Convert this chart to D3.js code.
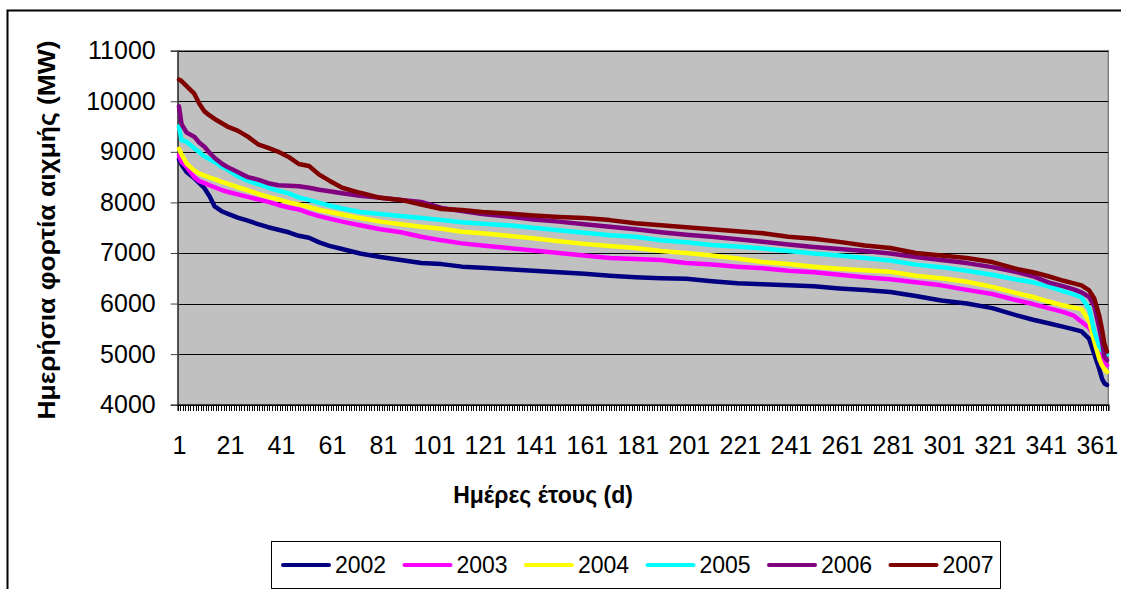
<!DOCTYPE html>
<html>
<head>
<meta charset="utf-8">
<script src="https://cdn.jsdelivr.net/npm/d3@7"></script>
<style>
  body { margin: 0; background: #fff; }
  text { font-family: "Liberation Sans", Arial, sans-serif; }
</style>
</head>
<body>
<div id="chart"></div>
<script>
const days = d3.range(1, 366)
const sampleDays = [1, 2, 4, 7, 9, 11, 13, 15, 18, 20, 24, 28, 32, 36, 40, 44, 48, 52, 56, 60, 65, 72, 80, 88, 96, 104, 112, 120, 130, 140, 150, 160, 170, 180, 190, 200, 210, 220, 230, 240, 250, 260, 270, 280, 290, 300, 310, 320, 330, 336, 342, 348, 352, 355, 358, 360, 362, 363, 364, 365]

const years = ["2002", "2003", "2004", "2005", "2006", "2007"]
const colors = ["#000080", "#FF00FF", "#FFFF00", "#00FFFF", "#800080", "#800000"]

// daily peak load, sorted (MW)
const load2002 = [8850, 8750, 8600, 8480, 8380, 8280, 8120, 7920, 7820, 7780, 7700, 7640, 7570, 7510, 7460, 7410, 7340, 7300, 7210, 7140, 7080, 6990, 6920, 6860, 6800, 6780, 6730, 6710, 6680, 6650, 6620, 6590, 6550, 6520, 6500, 6490, 6440, 6400, 6380, 6360, 6340, 6300, 6270, 6230, 6150, 6060, 6000, 5910, 5760, 5680, 5610, 5540, 5490, 5450, 5300, 5000, 4700, 4520, 4420, 4390]
const load2003 = [8930, 8800, 8700, 8500, 8420, 8380, 8340, 8300, 8240, 8210, 8160, 8110, 8060, 8010, 7950, 7900, 7860, 7790, 7730, 7680, 7620, 7550, 7470, 7410, 7320, 7250, 7190, 7150, 7100, 7050, 7000, 6950, 6900, 6880, 6860, 6800, 6770, 6730, 6700, 6650, 6620, 6570, 6520, 6480, 6420, 6360, 6270, 6190, 6060, 5990, 5910, 5830, 5760, 5640, 5520, 5350, 5050, 4900, 4810, 4780]
const load2004 = [9060, 8950, 8770, 8630, 8570, 8530, 8490, 8460, 8400, 8370, 8300, 8240, 8170, 8110, 8060, 8000, 7960, 7910, 7850, 7810, 7760, 7690, 7620, 7570, 7520, 7480, 7420, 7390, 7340, 7290, 7230, 7180, 7140, 7100, 7040, 7000, 6950, 6890, 6820, 6780, 6730, 6690, 6660, 6630, 6550, 6500, 6430, 6330, 6200, 6130, 6040, 5960, 5920, 5890, 5650, 5250, 4900, 4780, 4700, 4650]
const load2005 = [9500, 9230, 9200, 9070, 8990, 8910, 8850, 8800, 8700, 8650, 8520, 8430, 8360, 8290, 8230, 8180, 8100, 8050, 7990, 7940, 7880, 7810, 7770, 7730, 7690, 7650, 7610, 7580, 7550, 7500, 7450, 7400, 7350, 7320, 7250, 7210, 7160, 7130, 7090, 7040, 6990, 6950, 6900, 6850, 6770, 6720, 6650, 6570, 6470, 6420, 6340, 6240, 6180, 6120, 5900, 5450, 5150, 5080, 5030, 5000]
const load2006 = [9900, 9550, 9380, 9300, 9180, 9100, 8980, 8880, 8760, 8700, 8600, 8500, 8450, 8380, 8340, 8330, 8320, 8290, 8250, 8220, 8180, 8130, 8090, 8050, 8010, 7890, 7830, 7770, 7720, 7660, 7620, 7570, 7520, 7470, 7410, 7360, 7320, 7270, 7220, 7170, 7120, 7080, 7040, 6990, 6920, 6860, 6800, 6720, 6620, 6540, 6420, 6340, 6280, 6220, 6130, 5950, 5500, 5250, 4950, 4880]
const load2007 = [10430, 10400, 10300, 10150, 9950, 9800, 9720, 9650, 9560, 9500, 9420, 9300, 9150, 9080, 9000, 8900, 8760, 8720, 8550, 8430, 8290, 8190, 8090, 8050, 7960, 7870, 7850, 7810, 7780, 7740, 7710, 7690, 7650, 7590, 7550, 7510, 7470, 7430, 7390, 7320, 7280, 7220, 7150, 7100, 7000, 6950, 6900, 6820, 6680, 6620, 6540, 6450, 6400, 6360, 6260, 6100, 5750, 5500, 5200, 5050]

const yTicks = [4000, 5000, 6000, 7000, 8000, 9000, 10000, 11000]
const xLabels = d3.range(1, 366, 20)

const series = [load2002, load2003, load2004, load2005, load2006, load2007]

const W = 1121, H = 589
const plot = { left: 177.7, right: 1108.3, top: 50.7, bottom: 404.7 }

const svg = d3.select("#chart").append("svg")
    .attr("width", W)
    .attr("height", H)

// outer chart border
svg.append("rect")
    .attr("x", 7.5).attr("y", 10.5)
    .attr("width", 1200).attr("height", 700)
    .attr("fill", "white")
    .attr("stroke", "black")
    .attr("stroke-width", 2)

let x = d3.scaleLinear().domain([0.5, days.length + 0.5]).range([plot.left, plot.right])
let y = d3.scaleLinear().domain([4000, 11000]).range([plot.bottom, plot.top])

// plot area
svg.append("rect")
    .attr("x", plot.left).attr("y", plot.top)
    .attr("width", plot.right - plot.left).attr("height", plot.bottom - plot.top)
    .attr("fill", "#C0C0C0")
    .attr("stroke", "#808080")
    .attr("stroke-width", 1.5)

// gridlines
svg.append("g")
    .selectAll("line")
    .data(yTicks.slice(1))
    .enter()
    .append("line")
    .attr("x1", plot.left).attr("x2", plot.right)
    .attr("y1", d => Math.round(y(d)) + 0.5).attr("y2", d => Math.round(y(d)) + 0.5)
    .attr("stroke", "black")
    .attr("stroke-width", 1)

// y axis
let yAxis = svg.append("g")
    .attr("transform", `translate(${plot.left},0)`)
    .call(d3.axisLeft(y).tickValues(yTicks).tickSize(7).tickPadding(15).tickFormat(d3.format("d")))
yAxis.select(".domain").attr("stroke", "#404040").attr("stroke-width", 1.5)
yAxis.selectAll(".tick line").attr("stroke", "#404040")
yAxis.selectAll("text").attr("font-size", 25).attr("fill", "black")
    .style("font-family", "'Liberation Sans', Arial, sans-serif")

// x axis: tick marks at every category boundary
let xTickAxis = svg.append("g")
    .attr("transform", `translate(0,${plot.bottom})`)
    .call(d3.axisBottom(x).tickValues(d3.range(0.5, days.length + 1, 1)).tickSize(6).tickFormat(""))
xTickAxis.select(".domain").attr("stroke", "black").attr("stroke-width", 1.5)
xTickAxis.selectAll(".tick line").attr("stroke", "black").attr("shape-rendering", "crispEdges")

// x labels
let xAxis = svg.append("g")
    .attr("transform", `translate(0,${plot.bottom})`)
    .call(d3.axisBottom(x).tickValues(xLabels).tickSize(0).tickPadding(32).tickFormat(d3.format("d")))
xAxis.select(".domain").remove()
xAxis.selectAll("text").attr("font-size", 25).attr("fill", "black")
    .style("font-family", "'Liberation Sans', Arial, sans-serif")

// series lines
let line = d3.line()
    .x((d, i) => x(sampleDays[i]))
    .y(d => y(d))

svg.append("g")
    .selectAll("path")
    .data(series)
    .enter()
    .append("path")
    .attr("d", d => line(d))
    .attr("fill", "none")
    .attr("stroke", (d, i) => colors[i])
    .attr("stroke-width", 4.5)
    .attr("stroke-linejoin", "round")
    .attr("stroke-linecap", "round")

// axis titles
svg.append("text")
    .attr("x", 543).attr("y", 503)
    .attr("text-anchor", "middle")
    .attr("font-size", 23).attr("font-weight", "bold")
    .text("Ημέρες έτους (d)")

svg.append("text")
    .attr("transform", "translate(55,230) rotate(-90) scale(1.1,1)")
    .attr("text-anchor", "middle")
    .attr("font-size", 24).attr("font-weight", "bold")
    .text("Ημερήσια φορτία αιχμής (MW)")

// legend
let legend = svg.append("g")
legend.append("rect")
    .attr("x", 271.5).attr("y", 541.5)
    .attr("width", 729).attr("height", 47)
    .attr("fill", "white")
    .attr("stroke", "black")
    .attr("stroke-width", 1)

for (let i in years) {
    let lx = 283 + i * 121.5
    legend.append("line")
        .attr("x1", lx).attr("x2", lx + 46)
        .attr("y1", 565).attr("y2", 565)
        .attr("stroke", colors[i])
        .attr("stroke-width", 4)
        .attr("stroke-linecap", "round")
    legend.append("text")
        .attr("x", lx + 52).attr("y", 565)
        .attr("dominant-baseline", "central")
        .attr("font-size", 23)
        .text(years[i])
}
</script>
</body>
</html>
